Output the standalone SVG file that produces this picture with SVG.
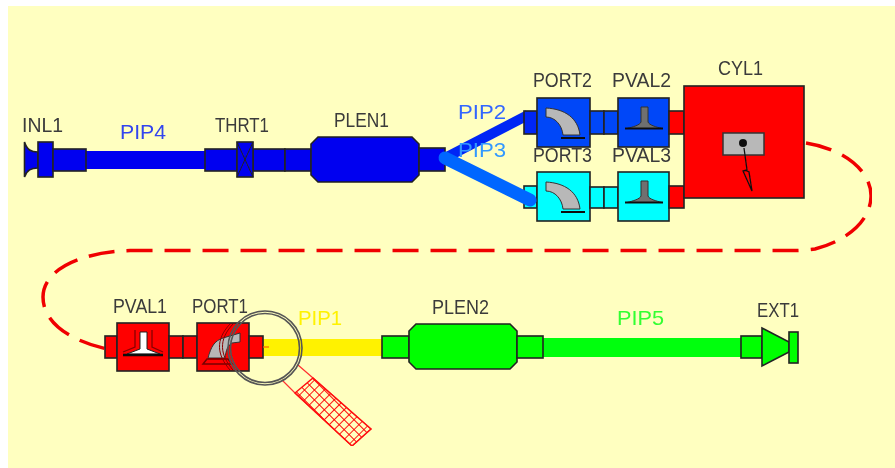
<svg xmlns="http://www.w3.org/2000/svg" width="895" height="468" viewBox="0 0 895 468">
<style>
.l{font-family:"Liberation Sans",Arial,sans-serif;font-size:21px;fill:#3a3a3a}
.p{font-family:"Liberation Sans",Arial,sans-serif;font-size:21px}
.k{stroke:#222;stroke-width:1.6}
.b{fill:#0000f0}.m{fill:#0046f8}.c{fill:#00ffff}.r{fill:#ff0000}.g{fill:#00ff00}
.i{fill:#b8b8b8;stroke:#333;stroke-width:1}
.ring{fill:none;stroke:#555;stroke-width:1.600}
</style>
<defs>
<filter id="soft" x="0" y="0" width="100%" height="100%"><feGaussianBlur stdDeviation="0.450"/></filter>
<pattern id="hatch" width="7" height="7" patternUnits="userSpaceOnUse" patternTransform="rotate(45 313 378)">
<path d="M0,0H7M0,0V7" stroke="#ff0000" stroke-width="1.800" fill="none"/>
</pattern>
<g id="porticon">
<path class="i" d="M9,10C28,11 41,20 43,37L26,37C25,27 18,19 9,19Z"/>
<path d="M24,40H48" stroke="#111" stroke-width="2"/>
</g>
<g id="valveicon">
<path d="M23,9H30V24C31,27 38,29 44,30.500H9C15,29 22,27 23,24Z" fill="#707070" stroke="#333" stroke-width="1"/>
<path d="M7,30.500H45" stroke="#111" stroke-width="1.800"/>
</g>
</defs>
<rect width="895" height="468" fill="#fff"/>
<rect x="8" y="6" width="887" height="462" fill="#ffffc0"/>
<g filter="url(#soft)">
<g id="connectors" fill="none">
<path id="PIP4-pipe" d="M86,160H205" stroke="#0000f0" stroke-width="18"/>
<path id="PIP2-pipe" d="M445,158L528,115" stroke="#0028f5" stroke-width="10"/>
<path id="PIP1-pipe" d="M263,347.500H382" stroke="#fff200" stroke-width="17"/>
<path id="PIP5-pipe" d="M543,347.500H741" stroke="#00ff10" stroke-width="19"/>
<path id="CYL1-PVAL1" d="M806,143C850,150 872,175 871,197C870,225 840,243 815,249Q800,251 780,250.500L130,250.500C80,252 43,270 43,297C43,325 75,342 107,349" stroke="#f00000" stroke-width="3.500" stroke-dasharray="26 12"/>
</g>
<g id="INL1">
<path class="b k" d="M24.500,142V177C27,170 31,168 38,168V152C31,152 27,150 24.500,142Z"/>
<rect class="b k" x="38" y="142" width="15" height="35"/>
<rect class="b k" x="53" y="149" width="33" height="22"/>
<text class="l" x="22" y="132" textLength="41" lengthAdjust="spacingAndGlyphs">INL1</text>
</g>
<g id="PIP4"><text class="p" x="120" y="139" fill="#3344ee" textLength="46" lengthAdjust="spacingAndGlyphs">PIP4</text></g>
<g id="THRT1">
<rect class="b k" x="205" y="149" width="32" height="22"/>
<rect class="b k" x="253" y="149" width="32" height="22"/>
<rect class="b k" x="285" y="149" width="26" height="22"/>
<rect class="b k" x="237" y="142" width="16" height="35"/>
<path d="M237,142L253,177M253,142L237,177" stroke="#222" stroke-width="1" fill="none"/>
<text class="l" x="215" y="132" textLength="54" lengthAdjust="spacingAndGlyphs">THRT1</text>
</g>
<g id="PLEN1">
<path class="b k" d="M318,137H412L419,144V175L412,182H318L311,175V144Z"/>
<rect class="b k" x="419" y="148" width="26" height="23"/>
<text class="l" x="334" y="127" textLength="55" lengthAdjust="spacingAndGlyphs">PLEN1</text>
</g>
<g id="PORT2">
<rect class="b k" x="524" y="111" width="13" height="23" style="fill:#0028f5"/>
<rect class="m k" x="537" y="98" width="53" height="49"/>
<use href="#porticon" x="537" y="98"/>
<text class="l" x="533" y="87" textLength="59" lengthAdjust="spacingAndGlyphs">PORT2</text>
</g>
<g id="PORT3">
<rect class="c k" x="524" y="186" width="13" height="22"/>
<rect class="c k" x="537" y="172" width="53" height="49"/>
<use href="#porticon" x="537" y="172"/>
<text class="l" x="533" y="162" textLength="59" lengthAdjust="spacingAndGlyphs">PORT3</text>
</g>
<path id="PIP3-pipe" d="M445,158L530,200" stroke="#0066ff" stroke-width="13" stroke-linecap="round" fill="none"/>
<g id="PIP2"><text class="p" x="458" y="119" fill="#3366ff" textLength="48" lengthAdjust="spacingAndGlyphs">PIP2</text></g>
<g id="PIP3"><text class="p" x="458" y="157" fill="#3399ff" textLength="48" lengthAdjust="spacingAndGlyphs">PIP3</text></g>
<g id="PVAL2">
<rect class="m k" x="590" y="111" width="14" height="23"/>
<rect class="m k" x="604" y="111" width="14" height="23"/>
<rect class="m k" x="618" y="98" width="51" height="49"/>
<use href="#valveicon" x="618" y="98"/>
<rect class="r k" x="669" y="111" width="15" height="23"/>
<text class="l" x="612" y="87" textLength="59" lengthAdjust="spacingAndGlyphs">PVAL2</text>
</g>
<g id="PVAL3">
<rect class="c k" x="590" y="187" width="14" height="21"/>
<rect class="c k" x="604" y="187" width="14" height="21"/>
<rect class="c k" x="618" y="172" width="51" height="49"/>
<use href="#valveicon" x="618" y="172"/>
<rect class="r k" x="669" y="186" width="15" height="22"/>
<text class="l" x="612" y="162" textLength="59" lengthAdjust="spacingAndGlyphs">PVAL3</text>
</g>
<g id="CYL1">
<rect class="r k" x="684" y="86" width="120" height="112"/>
<rect class="i" style="stroke-width:1.500" x="723" y="133" width="41" height="22"/>
<circle cx="743" cy="143" r="4" fill="#111"/>
<path d="M744,148L747,170L743,171L752,191L749,172L745,170" fill="none" stroke="#111" stroke-width="1.300"/>
<text class="l" x="718" y="75" textLength="45" lengthAdjust="spacingAndGlyphs">CYL1</text>
</g>
<g id="PVAL1">
<rect class="r k" x="105" y="336" width="12" height="22"/>
<rect class="r k" x="117" y="323" width="52" height="48"/>
<path d="M140,332H147V349L160,354H127L140,349Z" fill="#fff" stroke="#222" stroke-width="1"/>
<path d="M135,330V347L123,352M152,330V347L163,352" fill="none" stroke="#800" stroke-width="1.300"/>
<path d="M123,355H163" stroke="#111" stroke-width="2.500"/>
<rect class="r k" x="169" y="336" width="14" height="22"/>
<rect class="r k" x="183" y="336" width="14" height="22"/>
<text class="l" x="113" y="313" textLength="54" lengthAdjust="spacingAndGlyphs">PVAL1</text>
</g>
<g id="PORT1">
<rect class="r k" x="197" y="323" width="52" height="48"/>
<rect class="r k" x="249" y="336" width="14" height="22"/>
<path class="i" d="M208,358C211,347 214,341 223,338L240,333V342L232,343C228,345 226,350 225,358Z"/>
<path d="M207,359L203,364H232L228,359Z" fill="none" stroke="#700" stroke-width="1.500"/>
<path d="M233,324C218,340 220,355 233,370M230,324C215,340 217,355 230,370" fill="none" stroke="#800" stroke-width="1"/>
<path d="M263,347H269" stroke="#ff6000" stroke-width="1.200"/>
<text class="l" x="192" y="313" textLength="56" lengthAdjust="spacingAndGlyphs">PORT1</text>
</g>
<g id="PIP1"><text class="p" x="298" y="325" fill="#fff200" textLength="44" lengthAdjust="spacingAndGlyphs">PIP1</text></g>
<g id="PIP5"><text class="p" x="617" y="325" fill="#33ff33" textLength="47" lengthAdjust="spacingAndGlyphs">PIP5</text></g>
<g id="PLEN2">
<rect class="g k" x="382" y="336" width="27" height="22"/>
<path class="g k" d="M416,324H510L517,331V362L510,369H416L409,362V331Z"/>
<rect class="g k" x="517" y="336" width="26" height="22"/>
<text class="l" x="432" y="314" textLength="57" lengthAdjust="spacingAndGlyphs">PLEN2</text>
</g>
<g id="EXT1">
<rect class="g k" x="741" y="336" width="21" height="22"/>
<path class="g k" d="M762,328L789,342V352L762,366Z"/>
<rect class="g k" x="789" y="332" width="9" height="31"/>
<text class="l" x="757" y="317" textLength="42" lengthAdjust="spacingAndGlyphs">EXT1</text>
</g>
<g id="magnifier">
<path d="M298,365L313,378L371,429L352,446L295,393L282,380" fill="none" stroke="#ff3030" stroke-width="1.200"/>
<path d="M313,378L371,429L352,446L295,393Z" fill="url(#hatch)" stroke="#ff1010" stroke-width="1.400"/>
<circle class="ring" cx="265" cy="348" r="34.500"/>
<circle class="ring" cx="265" cy="348" r="37"/>
</g>
</g>
</svg>
